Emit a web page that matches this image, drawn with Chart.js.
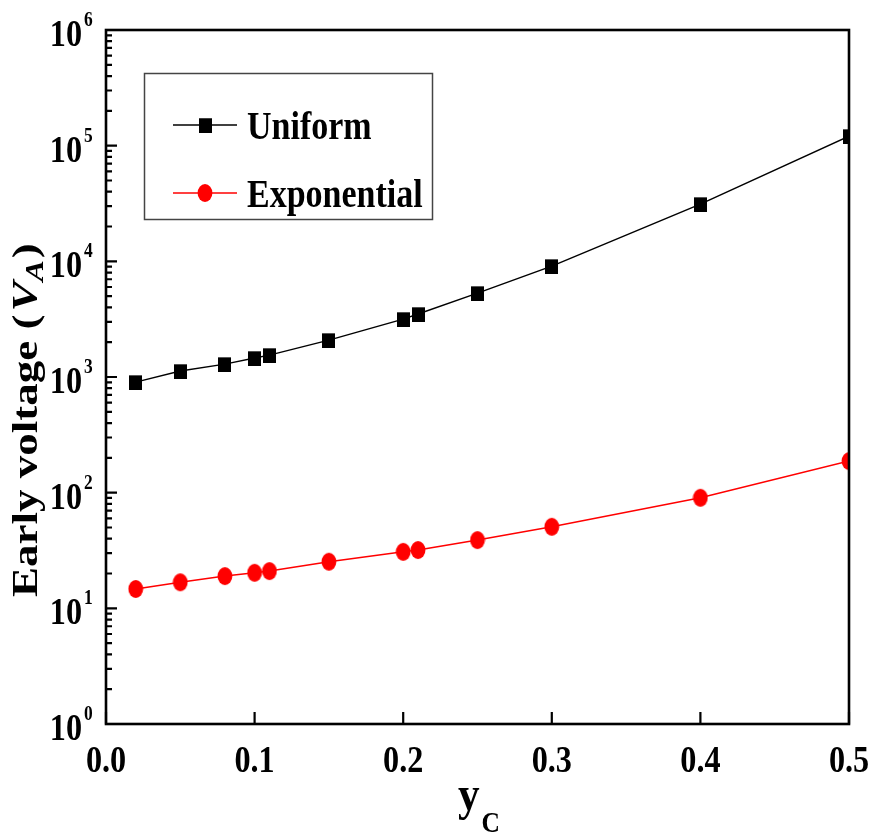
<!DOCTYPE html>
<html>
<head>
<meta charset="utf-8">
<script src="https://cdn.jsdelivr.net/npm/chart.js@4.4.0/dist/chart.umd.min.js"></script>
<style>
body { margin: 0; background: #fff; }
#wrap { width: 874px; height: 840px; }
</style>
</head>
<body>
<div id="wrap"><canvas id="chart" width="874" height="840"></canvas></div>
<script>
// data
const yC = [0.02, 0.05, 0.08, 0.1, 0.11, 0.15, 0.2, 0.21, 0.25, 0.3, 0.4, 0.5];
const uniform = [903, 1125, 1292, 1457, 1546, 2083, 3165, 3500, 5310, 9085, 31200, 120800];
const exponential = [14.7, 16.8, 19.0, 20.3, 21.0, 25.3, 30.8, 31.9, 38.9, 50.7, 90.3, 187.6];
const xTicks = [0.0, 0.1, 0.2, 0.3, 0.4, 0.5];
const xTickLabels = ["0.0", "0.1", "0.2", "0.3", "0.4", "0.5"];
const yExponents = [0, 1, 2, 3, 4, 5, 6];
const seriesNames = ["Uniform", "Exponential"];

const SERIF = '"Liberation Serif", "Times New Roman", serif';
const K = 0.87; // horizontal squeeze of the original figure

// marker images (slightly squeezed like the source)
function makeSquare(color) {
    const c = document.createElement("canvas");
    c.width = 13; c.height = 15;
    const g = c.getContext("2d");
    g.fillStyle = color;
    g.fillRect(0, 0.5, 13, 14.5);
    return c;
}
function makeDot(color) {
    const c = document.createElement("canvas");
    c.width = 16; c.height = 20;
    const g = c.getContext("2d");
    g.fillStyle = color;
    g.beginPath();
    g.ellipse(8, 10, 7.4, 9, 0, 0, Math.PI * 2);
    g.fill();
    return c;
}
const squareImg = makeSquare("#000");
const dotImg = makeDot("#ff0000");

function txt(ctx, s, x, y, size, k, align, style) {
    ctx.save();
    ctx.font = (style || "bold") + " " + size + "px " + SERIF;
    ctx.translate(x, y);
    ctx.scale(k, 1);
    ctx.textAlign = align || "left";
    ctx.textBaseline = "alphabetic";
    ctx.fillStyle = "#000";
    ctx.fillText(s, 0, 0);
    const w = ctx.measureText(s).width * k;
    ctx.restore();
    return w;
}

// Frame, ticks, labels, legend, titles
const decorPlugin = {
    id: "decor",
    afterDatasetsDraw(chart) {
        const ctx = chart.ctx;
        const a = chart.chartArea;
        const xs = chart.scales.x, ys = chart.scales.y;
        ctx.save();
        ctx.strokeStyle = "#000";

        // y ticks (inward), majors + log minors
        ctx.lineWidth = 2.2;
        ctx.beginPath();
        yExponents.forEach(e => {
            const py = ys.getPixelForValue(Math.pow(10, e));
            ctx.moveTo(a.left, py); ctx.lineTo(a.left + 11, py);
            if (e < yExponents[yExponents.length - 1]) {
                for (let m = 2; m <= 9; m++) {
                    const pm = ys.getPixelForValue(m * Math.pow(10, e));
                    ctx.moveTo(a.left, pm); ctx.lineTo(a.left + 6, pm);
                }
            }
        });
        // x ticks (inward)
        xTicks.forEach(v => {
            const px = xs.getPixelForValue(v);
            ctx.moveTo(px, a.bottom); ctx.lineTo(px, a.bottom - 12);
        });
        ctx.stroke();

        // frame
        ctx.lineWidth = 2.6;
        ctx.strokeRect(a.left, a.top, a.right - a.left, a.bottom - a.top);

        // y tick labels 10^n
        yExponents.forEach(e => {
            const py = ys.getPixelForValue(Math.pow(10, e));
            txt(ctx, "10", 82, py + 16, 37, K, "right");
            txt(ctx, String(e), 84, py - 4, 20, K, "left");
        });
        // x tick labels
        xTicks.forEach((v, i) => {
            const px = xs.getPixelForValue(v);
            txt(ctx, xTickLabels[i], px, 772, 37, K, "center");
        });

        // x title: y_C
        const wy = txt(ctx, "y", 458, 810, 48, 0.9, "left");
        txt(ctx, "C", 458 + wy + 2, 832, 30, 0.85, "left");

        // y title: Early voltage (V_A), rotated
        ctx.save();
        ctx.translate(37, 597);
        ctx.rotate(-Math.PI / 2);
        ctx.scale(1, 0.8);
        ctx.fillStyle = "#000";
        ctx.textBaseline = "alphabetic";
        let x0 = 0;
        ctx.font = "bold 45px " + SERIF;
        ctx.fillText("Early voltage (", x0, 0);
        x0 += ctx.measureText("Early voltage (").width + 3;
        ctx.font = "italic bold 45px " + SERIF;
        ctx.fillText("V", x0, 0);
        x0 += ctx.measureText("V").width;
        ctx.font = "italic bold 32px " + SERIF;
        ctx.fillText("A", x0, 7);
        x0 += ctx.measureText("A").width + 2;
        ctx.font = "bold 45px " + SERIF;
        ctx.fillText(")", x0, 0);
        ctx.restore();

        // legend
        ctx.lineWidth = 1.5;
        ctx.strokeStyle = "#444";
        ctx.strokeRect(144.5, 73.5, 288, 146);
        const rows = [
            { y: 125, color: "#000", img: squareImg, lw: 1.5 },
            { y: 193, color: "#ff0000", img: dotImg, lw: 1.5 }
        ];
        rows.forEach((r, i) => {
            ctx.strokeStyle = r.color;
            ctx.lineWidth = r.lw;
            ctx.beginPath();
            ctx.moveTo(173, r.y); ctx.lineTo(237, r.y);
            ctx.stroke();
            ctx.drawImage(r.img, 205 - r.img.width / 2, r.y - r.img.height / 2);
            txt(ctx, seriesNames[i], 247, r.y + 14, 40, 0.85, "left");
        });

        ctx.restore();
    }
};

new Chart(document.getElementById("chart"), {
    type: "scatter",
    data: {
        datasets: [
            {
                label: seriesNames[0],
                data: yC.map((x, i) => ({ x: x, y: uniform[i] })),
                showLine: true,
                borderColor: "#000",
                borderWidth: 1.5,
                pointStyle: squareImg,
                tension: 0
            },
            {
                label: seriesNames[1],
                data: yC.map((x, i) => ({ x: x, y: exponential[i] })),
                showLine: true,
                borderColor: "#ff0000",
                borderWidth: 1.5,
                pointStyle: dotImg,
                tension: 0
            }
        ]
    },
    options: {
        responsive: false,
        animation: false,
        layout: { padding: { left: 106, top: 30, right: 25, bottom: 116 } },
        plugins: { legend: { display: false }, tooltip: { enabled: false } },
        scales: {
            x: { type: "linear", min: 0, max: 0.5, display: false },
            y: { type: "logarithmic", min: 1, max: 1e6, display: false }
        }
    },
    plugins: [decorPlugin]
});
</script>
</body>
</html>
